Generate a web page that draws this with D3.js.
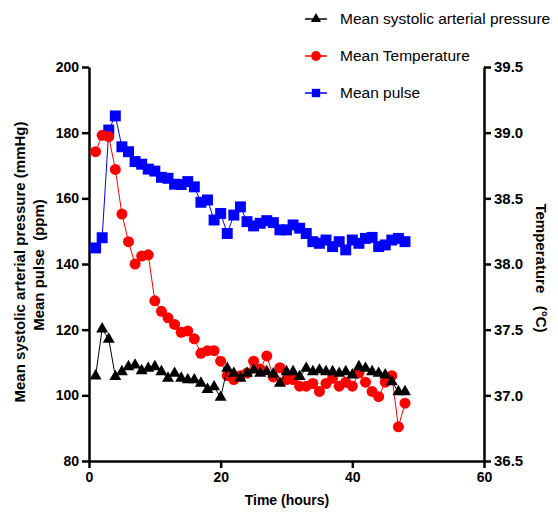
<!DOCTYPE html>
<html lang="en">
<head>
    <meta charset="UTF-8">
    <title>Mean vitals over time</title>
    <script src="https://d3js.org/d3.v7.min.js"></script>
    <style>
        body { margin: 0; background: #fff; }
        svg { font-family: "Liberation Sans", Arial, sans-serif; }
    </style>
</head>
<body>
    <div id="chart"></div>

    <script>
        // hours 1..48
        var hours = [1,2,3,4,5,6,7,8,9,10,11,12,13,14,15,16,17,18,19,20,21,22,23,24,
                     25,26,27,28,29,30,31,32,33,34,35,36,37,38,39,40,41,42,43,44,45,46,47,48];

        var pulse = [144.9,148,180.8,185.1,175.7,174.2,171.2,170.4,168.9,168.3,166.4,166.1,
                     164.3,164.2,165.1,163.5,158.8,159.5,153.4,155.4,149.3,154.9,157.4,152.9,
                     151.6,152.4,153.2,152.6,150.4,150.4,151.9,150.9,149.3,146.8,146.3,147.3,
                     145.3,146.8,144.3,147.3,146.3,147.8,148.1,145.3,145.8,147.3,147.8,146.8];

        var temperature = [38.855,38.98,38.97,38.72,38.38,38.17,38.0,38.06,38.07,37.72,37.64,37.59,
                           37.54,37.48,37.49,37.43,37.32,37.34,37.34,37.26,37.15,37.12,37.15,37.17,
                           37.26,37.2,37.3,37.14,37.21,37.12,37.12,37.07,37.07,37.09,37.03,37.09,
                           37.13,37.07,37.1,37.07,37.17,37.1,37.03,36.99,37.1,37.15,36.76,36.94];

        var pressure = [105.9,120.2,117.1,105.7,107.2,108.7,109.2,107.5,108.2,108.7,107.2,105.2,
                        106.7,105.2,104.7,104.7,103.7,101.8,102.6,99.4,108.2,106.7,105.2,106.7,
                        107.7,106.7,107.2,106.5,103.7,107.2,107.2,105.7,108.2,107.2,107.7,107.2,
                        107.2,106.7,107.2,106.2,108.7,108.2,107.2,106.7,106.2,104.1,101.1,101.1];

        var xTicks = [0, 20, 40, 60];
        var leftTicks = [80, 100, 120, 140, 160, 180, 200];
        var rightTicks = [36.5, 37.0, 37.5, 38.0, 38.5, 39.0, 39.5];

        var legendNames = ["Mean systolic arterial pressure", "Mean Temperature", "Mean pulse"];

        var width = 558, height = 515;

        var svg = d3.select("#chart").append("svg")
                    .attr("width", width)
                    .attr("height", height);

        var x = d3.scaleLinear().domain([0, 60]).range([89, 484]);
        var yL = d3.scaleLinear().domain([80, 200]).range([461, 67]);
        var yR = d3.scaleLinear().domain([36.5, 39.5]).range([461, 67]);

        // axes
        var gLeft = svg.append("g")
            .attr("transform", "translate(89,0)")
            .call(d3.axisLeft(yL).tickValues(leftTicks).tickSize(7).tickSizeOuter(0).tickPadding(3));

        var gRight = svg.append("g")
            .attr("transform", "translate(484,0)")
            .call(d3.axisRight(yR).tickValues(rightTicks).tickSize(7).tickSizeOuter(0).tickPadding(3)
                  .tickFormat(d3.format(".1f")));

        var gBottom = svg.append("g")
            .attr("transform", "translate(0,461)")
            .call(d3.axisBottom(x).tickValues(xTicks).tickSize(7).tickSizeOuter(0).tickPadding(4));

        [gLeft, gRight, gBottom].forEach(function(g) {
            g.select(".domain").attr("stroke", "#000").attr("stroke-width", 2.5);
            g.selectAll(".tick line").attr("stroke", "#000").attr("stroke-width", 2.5);
            g.selectAll(".tick text")
             .attr("font-family", "Liberation Sans, Arial, sans-serif")
             .attr("font-size", "14px")
             .attr("font-weight", "bold")
             .attr("fill", "#000");
        });
        gRight.selectAll(".tick text").attr("font-size", "15px");

        // axis titles
        svg.append("text")
           .attr("transform", "translate(287,505)")
           .attr("text-anchor", "middle")
           .attr("font-size", "14px")
           .attr("font-weight", "bold")
           .text("Time (hours)");

        svg.append("text")
           .attr("transform", "translate(25,262) rotate(-90)")
           .attr("text-anchor", "middle")
           .attr("font-size", "15px")
           .attr("font-weight", "bold")
           .text("Mean systolic arterial pressure (mmHg)");

        svg.append("text")
           .attr("transform", "translate(44,265) rotate(-90)")
           .attr("text-anchor", "middle")
           .attr("font-size", "15px")
           .attr("font-weight", "bold")
           .style("white-space", "pre")
           .text("Mean pulse  (ppm)");

        svg.append("text")
           .attr("transform", "translate(536,268) rotate(90)")
           .attr("text-anchor", "middle")
           .attr("font-size", "15px")
           .attr("font-weight", "bold")
           .style("white-space", "pre")
           .text("Temperature   (°C)");

        // series
        function drawSeries(values, yScale, color, symbol, size) {
            var pts = hours.map(function(h, i) { return [h, values[i]]; });
            var line = d3.line()
                .x(function(d) { return x(d[0]); })
                .y(function(d) { return yScale(d[1]); });

            svg.append("path")
               .datum(pts)
               .attr("d", line)
               .attr("fill", "none")
               .attr("stroke", color)
               .attr("stroke-width", 1);

            svg.append("g").selectAll("path")
               .data(pts)
               .enter()
               .append("path")
               .attr("transform", function(d) { return "translate(" + x(d[0]) + "," + yScale(d[1]) + ")"; })
               .attr("d", d3.symbol().type(symbol).size(size))
               .attr("fill", color);
        }

        drawSeries(pulse, yL, "#0000ff", d3.symbolSquare, 120);
        drawSeries(temperature, yR, "#ff0000", d3.symbolCircle, 95);
        drawSeries(pressure, yL, "#000000", d3.symbolTriangle, 62);

        // legend
        var legendColors = ["#000000", "#ff0000", "#0000ff"];
        var legendSymbols = [d3.symbolTriangle, d3.symbolCircle, d3.symbolSquare];
        var legendSizes = [45, 75, 70];

        var lg = svg.selectAll(".legend")
                    .data(legendNames)
                    .enter()
                    .append("g")
                    .attr("class", "legend")
                    .attr("transform", function(d, i) { return "translate(305," + (19 + i * 37) + ")"; });

        lg.append("line")
          .attr("x1", 0).attr("x2", 22)
          .attr("stroke", function(d, i) { return legendColors[i]; })
          .attr("stroke-width", 1.5);

        lg.append("path")
          .attr("transform", "translate(11,0)")
          .attr("d", function(d, i) { return d3.symbol().type(legendSymbols[i]).size(legendSizes[i])(); })
          .attr("fill", function(d, i) { return legendColors[i]; });

        lg.append("text")
          .attr("x", 35)
          .attr("dy", "0.35em")
          .attr("font-size", "15.5px")
          .text(function(d) { return d; });
    </script>
</body>
</html>
